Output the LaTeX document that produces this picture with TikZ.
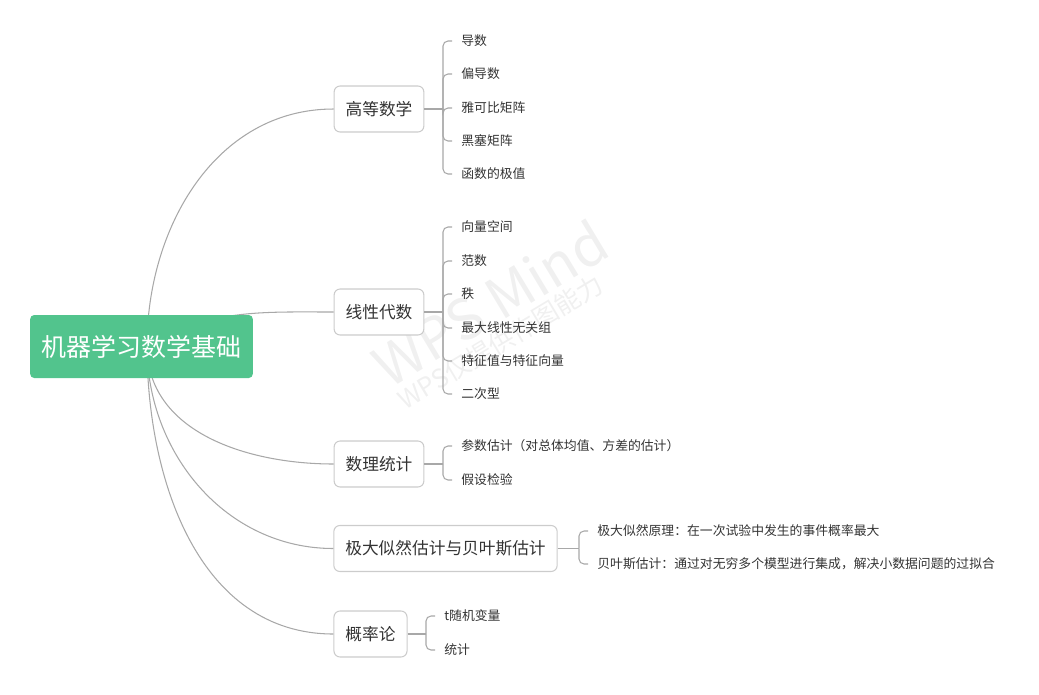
\documentclass[tikz,border=0pt]{standalone}
\usepackage{fontspec}
\setmainfont{Noto Sans CJK SC}
\usetikzlibrary{positioning}
\definecolor{mmgreen}{HTML}{52C48D}
\definecolor{mmline}{HTML}{A8A8A8}
\definecolor{mmborder}{HTML}{CCCCCC}
\definecolor{mmink}{HTML}{333333}
\definecolor{mmwater}{HTML}{F0F0F0}
\tikzset{
  mm root/.style={fill=mmgreen, rounded corners=0.08cm, text=white,
    font=\fontsize{14.2}{16}\selectfont, minimum height=1.26cm, inner xsep=0.23cm},
  mm topic/.style={draw=mmborder, line width=0.6pt, fill=white, rounded corners=0.12cm,
    minimum height=0.92cm, inner xsep=0.23cm, text=mmink, font=\fontsize{9.5}{11}\selectfont},
  mm leaf/.style={anchor=west, inner xsep=0.18cm, inner ysep=1pt, text=mmink,
    font=\fontsize{7.3}{9}\selectfont},
  mm link/.style={draw=mmline, line width=0.6pt},
  mm bracket/.style={mm link, rounded corners=0.1cm},
  mm water/.style={rotate=31, text=mmwater}
}

\begin{document}
\begin{tikzpicture}[x=0.02cm, y=-0.02cm]
  \useasboundingbox (0,0) rectangle (1039,694);
  % watermark
  \node[mm water, font=\fontsize{32}{32}\selectfont] (wm1) at (490,303) {WPS Mind};
  \node[mm water, font=\fontsize{14.6}{15}\selectfont] (wm2) at (500,342) {WPS仅提供作图能力};
  % topics
  \node[mm topic] (adv) at (379,109) {高等数学};
  \node[mm topic] (lin) at (379,312) {线性代数};
  \node[mm topic] (stat) at (379,464) {数理统计};
  \node[mm topic] (mle) at (445.5,548.5) {极大似然估计与贝叶斯估计};
  \node[mm topic] (prob) at (370.5,634) {概率论};
  % curves from the root
  \coordinate (hub) at (147,346);
  \draw[mm link] (hub) to[out=90,in=180] (adv.west);
  \draw[mm link] (hub) to[out=30,in=180] (lin.west);
  \draw[mm link] (hub) to[out=-90,in=180] (stat.west);
  \draw[mm link] (hub) to[out=-90,in=180] (mle.west);
  \draw[mm link] (hub) to[out=-90,in=180] (prob.west);
  \node[mm root] (root) at (141.5,346.5) {机器学习数学基础};
  % leaves
  \coordinate (advj) at (443,109);
  \draw[mm link] (adv.east) -- (advj);
  \foreach \i/\y/\t in {1/41/{导数},2/74/{偏导数},3/108/{雅可比矩阵},4/141/{黑塞矩阵},5/174/{函数的极值}} {
    \node[mm leaf] (adv\i) at (452,\y) {\t};
    \draw[mm bracket] (advj) |- (adv\i.west);
  }
  \coordinate (linj) at (443,312);
  \draw[mm link] (lin.east) -- (linj);
  \foreach \i/\y/\t in {1/227/{向量空间},2/261/{范数},3/294/{秩},4/328/{最大线性无关组},5/361/{特征值与特征向量},6/394/{二次型}} {
    \node[mm leaf] (lin\i) at (452,\y) {\t};
    \draw[mm bracket] (linj) |- (lin\i.west);
  }
  \coordinate (statj) at (443,464);
  \draw[mm link] (stat.east) -- (statj);
  \foreach \i/\y/\t in {1/446/{参数估计（对总体均值、方差的估计）},2/480/{假设检验}} {
    \node[mm leaf] (stat\i) at (452,\y) {\t};
    \draw[mm bracket] (statj) |- (stat\i.west);
  }
  \coordinate (mlej) at (579,548.5);
  \draw[mm link] (mle.east) -- (mlej);
  \foreach \i/\y/\t in {1/531/{极大似然原理：在一次试验中发生的事件概率最大},2/564/{贝叶斯估计：通过对无穷多个模型进行集成，解决小数据问题的过拟合}} {
    \node[mm leaf] (mle\i) at (588,\y) {\t};
    \draw[mm bracket] (mlej) |- (mle\i.west);
  }
  \coordinate (probj) at (426,634);
  \draw[mm link] (prob.east) -- (probj);
  \foreach \i/\y/\t in {1/616/{t随机变量},2/650/{统计}} {
    \node[mm leaf] (prob\i) at (435,\y) {\t};
    \draw[mm bracket] (probj) |- (prob\i.west);
  }
\end{tikzpicture}
\end{document}
